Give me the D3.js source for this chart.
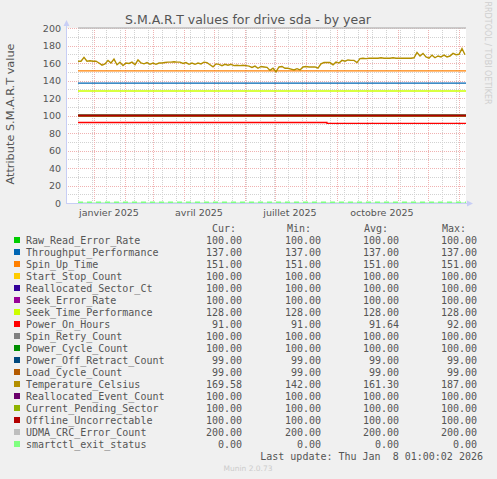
<!DOCTYPE html>
<html>
<head>
<meta charset="utf-8">
<script src="https://cdn.jsdelivr.net/npm/d3@7"></script>
<style>
body { margin: 0; background: #f0f0f0; }
svg { display: block; }
text { font-family: "DejaVu Sans", sans-serif; }
.mono { font-family: "DejaVu Sans Mono", monospace; font-size: 10px; fill: #555; white-space: pre; }
</style>
</head>
<body>
<script>
var w = 497;
var h = 479;

var names = ['Raw_Read_Error_Rate', 'Throughput_Performance', 'Spin_Up_Time', 'Start_Stop_Count',
  'Reallocated_Sector_Ct', 'Seek_Error_Rate', 'Seek_Time_Performance', 'Power_On_Hours',
  'Spin_Retry_Count', 'Power_Cycle_Count', 'Power_Off_Retract_Count', 'Load_Cycle_Count',
  'Temperature_Celsius', 'Reallocated_Event_Count', 'Current_Pending_Sector',
  'Offline_Uncorrectable', 'UDMA_CRC_Error_Count', 'smartctl_exit_status'];
var colors = ['#00CC00', '#0066B3', '#FF8000', '#FFCC00', '#330099', '#990099', '#CCFF00', '#FF0000',
  '#808080', '#008F00', '#00487D', '#B35A00', '#B38F00', '#6B006B', '#8FB300', '#B30000',
  '#BEBEBE', '#80FF80'];
var cur  = ['100.00', '137.00', '151.00', '100.00', '100.00', '100.00', '128.00', '91.00', '100.00',
  '100.00', '99.00', '99.00', '169.58', '100.00', '100.00', '100.00', '200.00', '0.00'];
var mins = ['100.00', '137.00', '151.00', '100.00', '100.00', '100.00', '128.00', '91.00', '100.00',
  '100.00', '99.00', '99.00', '142.00', '100.00', '100.00', '100.00', '200.00', '0.00'];
var avgs = ['100.00', '137.00', '151.00', '100.00', '100.00', '100.00', '128.00', '91.64', '100.00',
  '100.00', '99.00', '99.00', '161.30', '100.00', '100.00', '100.00', '200.00', '0.00'];
var maxs = ['100.00', '137.00', '151.00', '100.00', '100.00', '100.00', '128.00', '92.00', '100.00',
  '100.00', '99.00', '99.00', '187.00', '100.00', '100.00', '100.00', '200.00', '0.00'];

// constant series (null = drawn from its own array below)
var flatValues = [100, 137, 151, 100, 100, 100, 128, null, 100, 100, 99, 99, null, 100, 100, 100, 200, 0];

var dataStart = new Date(2024, 11, 16, 1);
var dataEnd = new Date(2026, 0, 8, 1);

var powerOnDates = [new Date(2024, 11, 16, 1), new Date(2025, 7, 22), new Date(2026, 0, 8, 1)];
var powerOnValues = [92, 91, 91];

// Temperature_Celsius, one reading every 3 days from dataStart
var tempValues = [162, 162, 166.5, 162, 162.5, 162, 162, 160, 157.5, 159,
  163, 160, 164.5, 158, 161, 157, 160, 159.5, 161, 158,
  163.5, 160, 159, 160.5, 158.5, 160, 158.5, 160, 160, 160.5,
  161, 161, 161.5, 161, 161, 159.5, 160.5, 158.5, 160, 158.5,
  160, 159, 161, 160.5, 158, 155.5, 159, 158.5, 157, 158.5,
  157.5, 158.5, 157, 157.5, 157, 157.5, 157, 156.5, 155, 156.5,
  154, 156, 155.5, 155, 151.5, 154, 150, 155.5, 156, 154,
  154, 153, 152, 153.5, 152, 155.5, 156, 155.5, 155.5, 155.5,
  154, 159, 160.5, 160.5, 160.5, 158, 161, 160, 163, 162,
  163.5, 163, 163, 160.5, 165, 165.5, 165, 165.5, 165.5, 165.5,
  165.5, 166, 165.5, 165.5, 165.5, 166, 165.5, 165.5, 165.5, 165.5,
  165.5, 165.5, 166, 172, 168, 171, 167, 165.5, 169, 166,
  168, 167, 169, 167, 168, 171, 169.5, 170, 176.5, 169.5];

var yTickValues = [0, 20, 40, 60, 80, 100, 120, 140, 160, 180, 200];
var xTickDates = [new Date(2025, 0, 1), new Date(2025, 3, 1), new Date(2025, 6, 1), new Date(2025, 9, 1)];
var xTickLabels = ['janvier 2025', 'avril 2025', 'juillet 2025', 'octobre 2025'];

var end = new Date(2026, 0, 8, 1, 0, 2);
var start = d3.timeDay.offset(end, -400);

var x = d3.scaleTime().domain([start, end]).range([66, 466]);
var y = d3.scaleLinear().domain([0, 200]).range([203, 28]);

var svg = d3.select('body').append('svg').attr('width', w).attr('height', h);

svg.append('rect').attr('x', 66).attr('y', 28).attr('width', 400).attr('height', 175).attr('fill', '#ffffff');

// grid
var g = svg.append('g').attr('stroke-dasharray', '1,1').attr('stroke-width', 1);
var minorY = d3.range(10, 200, 20);
g.selectAll('.hmin').data(minorY).enter().append('line')
  .attr('x1', 66).attr('x2', 466)
  .attr('y1', function(d) { return Math.round(y(d)) + 0.5; })
  .attr('y2', function(d) { return Math.round(y(d)) + 0.5; })
  .attr('stroke', '#d2d2d2');
var weeks = d3.timeDay.range(new Date(2024, 11, 2), end, 14).filter(function(d) { return d > start; });
g.selectAll('.vmin').data(weeks).enter().append('line')
  .attr('x1', function(d) { return Math.round(x(d)) + 0.5; })
  .attr('x2', function(d) { return Math.round(x(d)) + 0.5; })
  .attr('y1', 28).attr('y2', 203)
  .attr('stroke', '#d2d2d2');
g.selectAll('.hmaj').data(yTickValues.slice(1)).enter().append('line')
  .attr('x1', 66).attr('x2', 466)
  .attr('y1', function(d) { return Math.round(y(d)) + 0.5; })
  .attr('y2', function(d) { return Math.round(y(d)) + 0.5; })
  .attr('stroke', '#f0b2b2');
var months = d3.timeMonth.range(start, end);
g.selectAll('.vmaj').data(months).enter().append('line')
  .attr('x1', function(d) { return Math.round(x(d)) + 0.5; })
  .attr('x2', function(d) { return Math.round(x(d)) + 0.5; })
  .attr('y1', 28).attr('y2', 203)
  .attr('stroke', '#f0b2b2');

// series
var line = d3.line().x(function(d) { return x(d[0]); }).y(function(d) { return y(d[1]); });
var stepLine = d3.line().curve(d3.curveStepAfter).x(function(d) { return x(d[0]); }).y(function(d) { return y(d[1]); });

var series = names.map(function(n, i) {
  var pts;
  if (n === 'Power_On_Hours') {
    pts = powerOnDates.map(function(d, j) { return [d, powerOnValues[j]]; });
  } else if (n === 'Temperature_Celsius') {
    pts = tempValues.map(function(v, j) { return [d3.timeDay.offset(dataStart, 3 * j), v]; });
  } else {
    pts = [[dataStart, flatValues[i]], [dataEnd, flatValues[i]]];
  }
  return {name: n, color: colors[i], pts: pts};
});

svg.selectAll('path.s')
  .data(series)
  .enter()
  .append('path')
  .attr('class', 's')
  .attr('fill', 'none')
  .attr('stroke', function(d) { return d.name === 'smartctl_exit_status' ? '#c9f7c9' : d.color; })
  .attr('stroke-width', function(d) { return d.name === 'Temperature_Celsius' ? 1.4 : (d.name === 'smartctl_exit_status' ? 2 : 1.3); })
  .attr('d', function(d) { return d.name === 'Power_On_Hours' ? stepLine(d.pts) : line(d.pts); });

// smartctl dashes
var last = series[series.length - 1];
svg.append('path').attr('fill', 'none').attr('stroke', last.color).attr('stroke-width', 2)
  .attr('stroke-dasharray', '5,4').attr('d', line(last.pts))
  .attr('transform', 'translate(0,-0.5)');

// axes
var axisColor = '#c8cef5';
svg.append('line').attr('x1', 66.5).attr('x2', 66.5).attr('y1', 203).attr('y2', 24).attr('stroke', axisColor);
svg.append('path').attr('d', 'M63.5,26 L66.5,20 L69.5,26 Z').attr('fill', axisColor);
svg.append('line').attr('x1', 66).attr('x2', 468).attr('y1', 203.5).attr('y2', 203.5).attr('stroke', axisColor);
svg.append('path').attr('d', 'M467,200.5 L473,203.5 L467,206.5 Z').attr('fill', axisColor);

var yAxis = d3.axisLeft(y).tickValues(yTickValues).tickSize(0).tickPadding(5);
svg.append('g').attr('transform', 'translate(66,0)').call(yAxis)
  .call(function(s) { s.select('.domain').remove(); })
  .selectAll('text').attr('font-family', '"DejaVu Sans", sans-serif').attr('font-size', '9.5px').attr('fill', '#555');

svg.selectAll('text.xl')
  .data(xTickDates)
  .enter()
  .append('text')
  .attr('class', 'xl')
  .attr('x', function(d) { return x(d3.timeDay.offset(d, 15)); })
  .attr('y', 216)
  .attr('text-anchor', 'middle')
  .attr('font-size', '9.5px')
  .attr('fill', '#555')
  .text(function(d, i) { return xTickLabels[i]; });

// titles
svg.append('text').attr('x', 248).attr('y', 24).attr('text-anchor', 'middle')
  .attr('font-size', '12.5px').attr('fill', '#555').text('S.M.A.R.T values for drive sda - by year');
svg.append('text').attr('transform', 'translate(14,114) rotate(-90)').attr('text-anchor', 'middle')
  .attr('font-size', '11.3px').attr('fill', '#555').text('Attribute S.M.A.R.T value');
svg.append('text').attr('transform', 'translate(485,53) rotate(90)').attr('text-anchor', 'middle')
  .attr('font-size', '8px').attr('fill', '#cfcfcf').text('RRDTOOL / TOBI OETIKER');

// legend
var cols = [242, 321, 399, 477];
var heads = ['Cur:', 'Min:', 'Avg:', 'Max:'];
var headX = [236, 311, 388, 466];
heads.forEach(function(t, i) {
  svg.append('text').attr('class', 'mono').attr('x', headX[i]).attr('y', 231.5)
    .attr('text-anchor', 'end').text(t);
});
var rows = svg.selectAll('g.row')
  .data(series)
  .enter()
  .append('g')
  .attr('class', 'row')
  .attr('transform', function(d, i) { return 'translate(0,' + (240 + 12 * i) + ')'; });
rows.append('rect').attr('x', 14).attr('y', -3).attr('width', 6).attr('height', 6)
  .attr('fill', function(d) { return d.color; });
rows.append('text').attr('class', 'mono').attr('x', 26).attr('y', 3.5).text(function(d) { return d.name; });
[cur, mins, avgs, maxs].forEach(function(arr, c) {
  rows.append('text').attr('class', 'mono').attr('x', cols[c]).attr('y', 3.5)
    .attr('text-anchor', 'end').text(function(d, i) { return arr[i]; });
});

svg.append('text').attr('class', 'mono').attr('x', 483).attr('y', 459.5).attr('text-anchor', 'end')
  .text('Last update: Thu Jan  8 01:00:02 2026');
svg.append('text').attr('x', 248).attr('y', 471).attr('text-anchor', 'middle')
  .attr('font-size', '7.5px').attr('fill', '#cccccc').text('Munin 2.0.73');
</script>
</body>
</html>
